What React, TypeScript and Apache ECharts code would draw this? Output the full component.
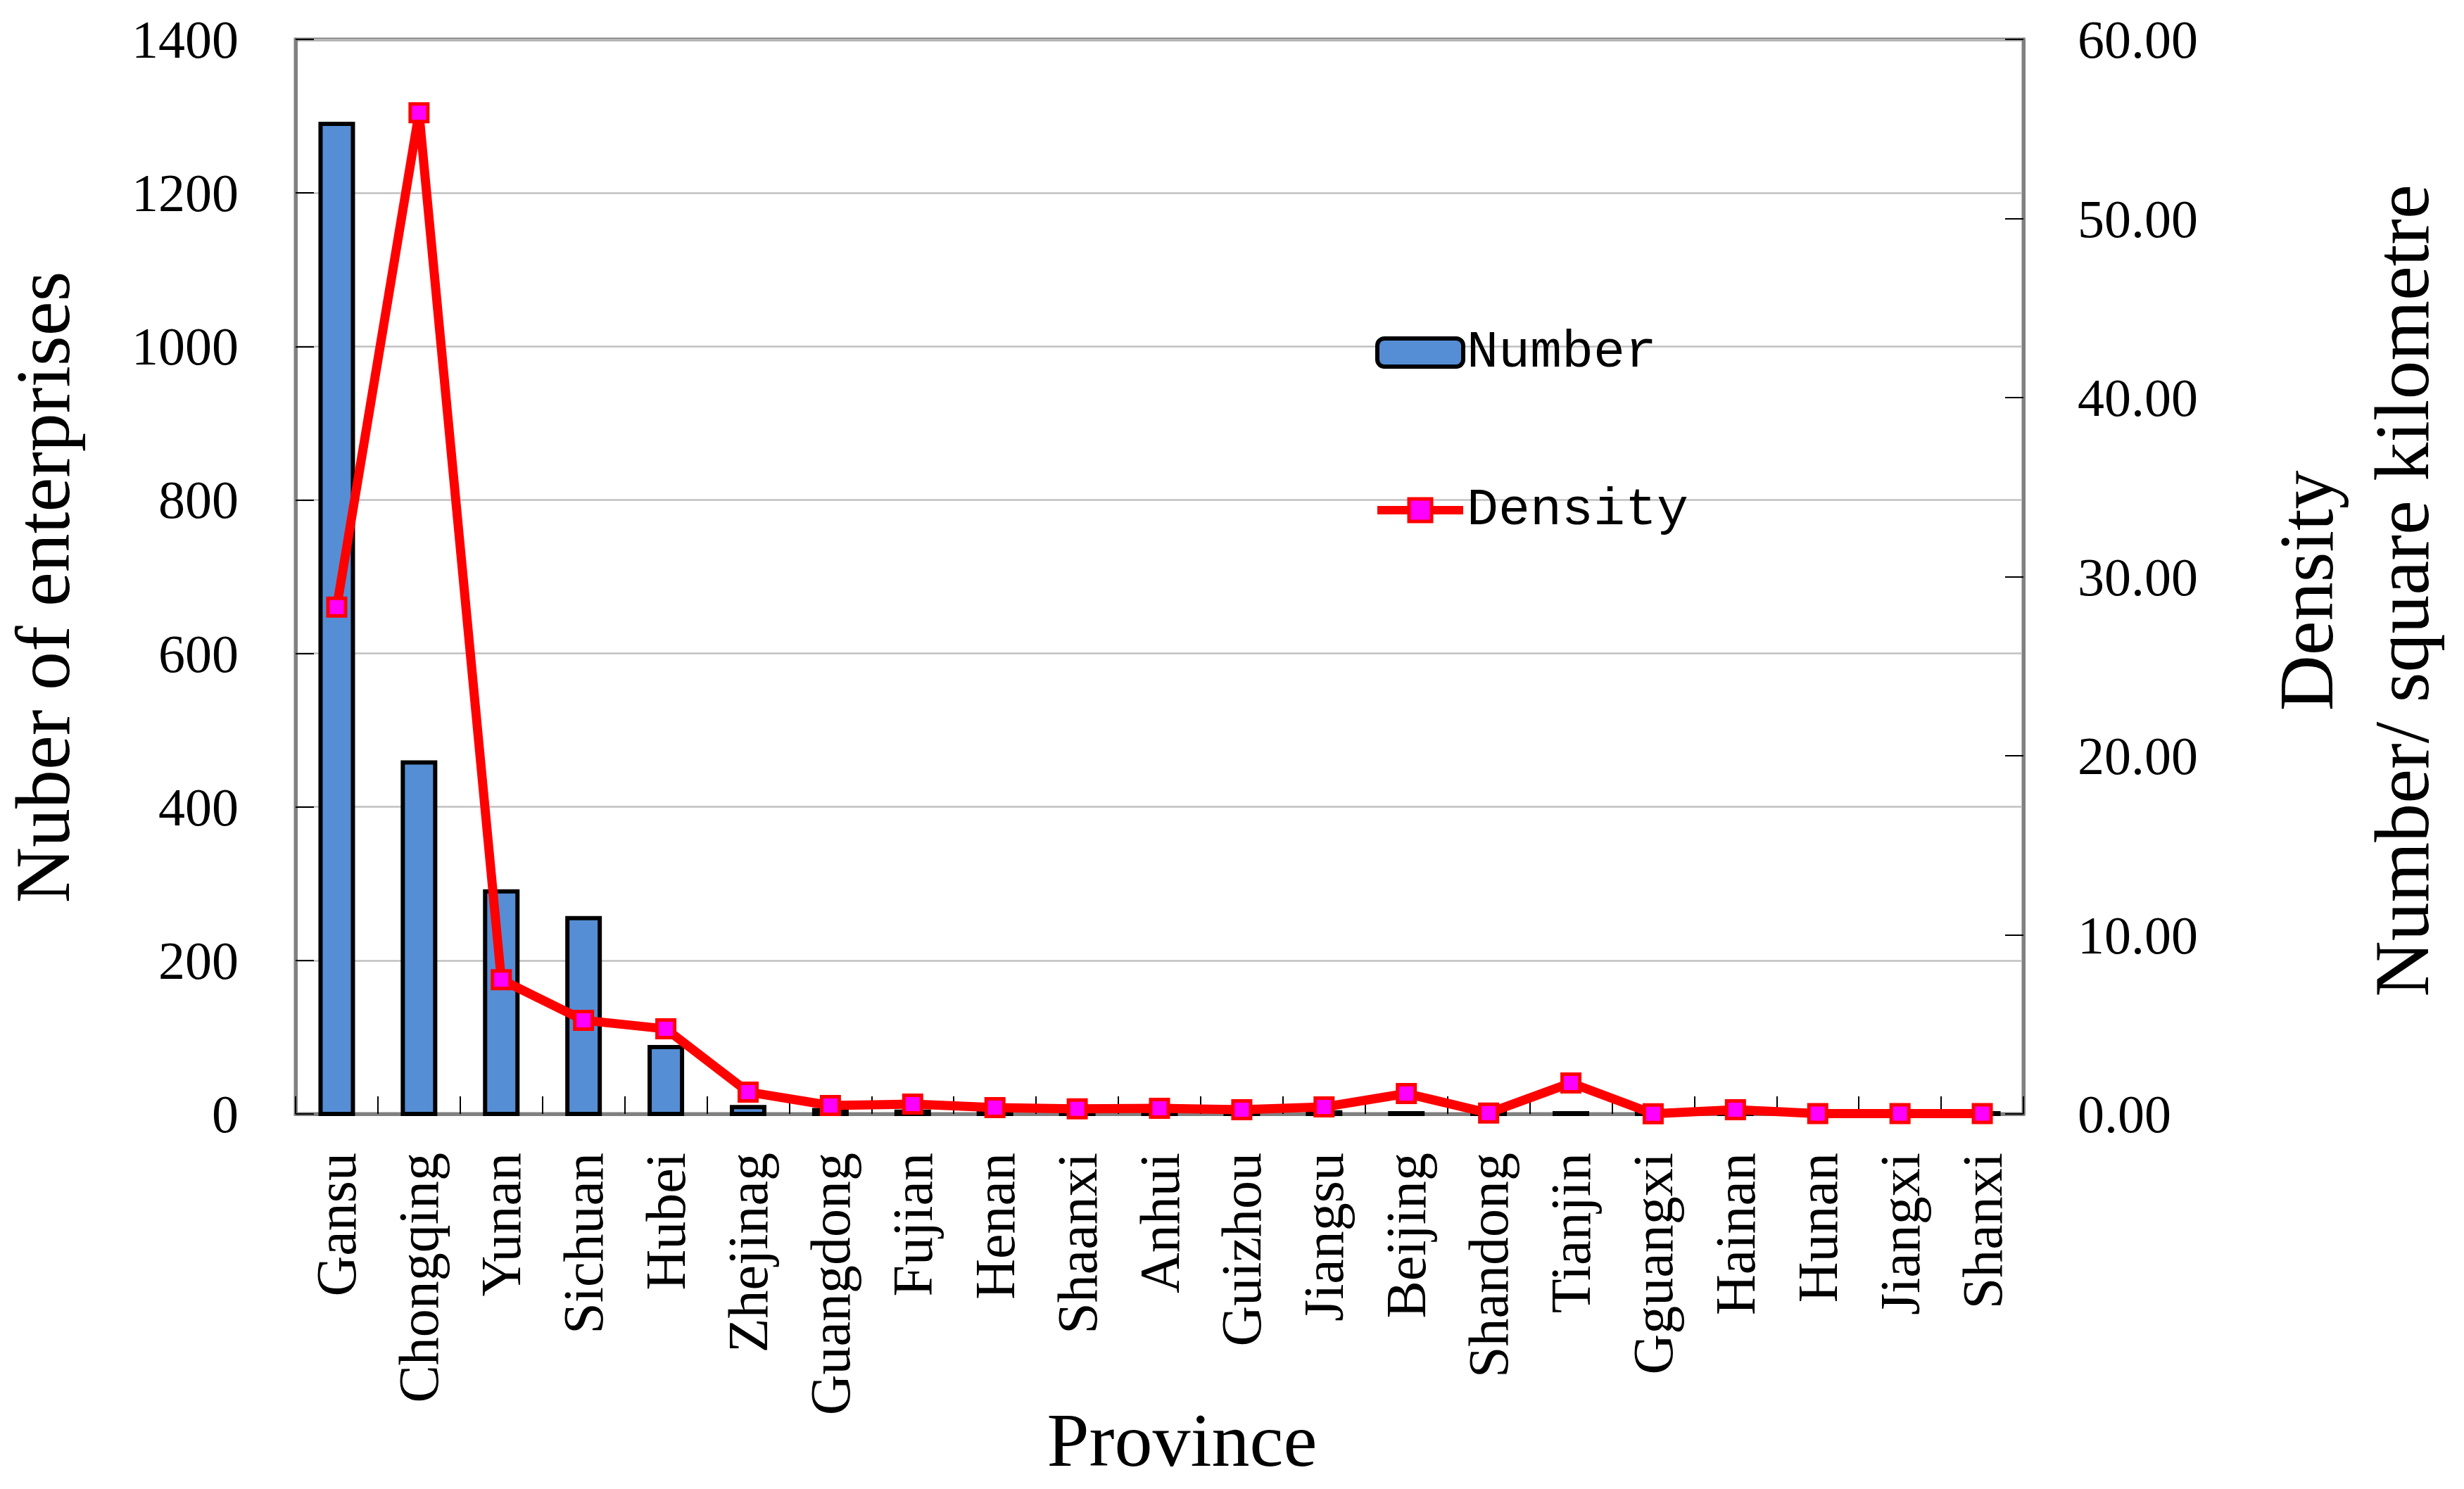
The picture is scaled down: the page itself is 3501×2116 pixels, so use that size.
import React, { useEffect, useRef } from "react";
import * as echarts from "echarts";

const provinces = [
  "Gansu", "Chongqing", "Yunan", "Sichuan", "Hubei", "Zhejinag", "Guangdong",
  "Fujian", "Henan", "Shaanxi", "Anhui", "Guizhou", "Jiangsu", "Beijing",
  "Shandong", "Tianjin", "Gguangxi", "Hainan", "Hunan", "Jiangxi", "Shanxi",
];

const numberValues = [
  1290, 458, 290, 255, 87, 9, 5, 3, 2, 2, 2, 2, 2, 1, 1, 1, 1, 1, 1, 1, 1,
];

const densityValues = [
  28.3, 55.9, 7.5, 5.23, 4.75, 1.22, 0.47, 0.55, 0.35, 0.28, 0.31, 0.24, 0.39,
  1.14, 0.05, 1.73, 0.01, 0.24, 0.02, 0.02, 0.02,
];

const leftAxisRange = { min: 0, max: 1400, interval: 200 };
const rightAxisRange = { min: 0, max: 60, interval: 10 };

const seriesNames = ["Number", "Density"];
const axisNames = {
  x: "Province",
  left: "Nuber of enterprises",
  right: "Density\nNumber/ square kilometre",
};

const SERIF = "'Liberation Serif', 'Times New Roman', serif";
const MONO = "'Liberation Mono', 'DejaVu Sans Mono', monospace";

const BAR_FILL = "#558ED5";
const BAR_STROKE = "#000000";
const BAR_WIDTH = 46;
const BAR_BORDER = 6;
const LINE_COLOR = "#FF0000";
const MARKER_FILL = "#FF00FF";

export default function App() {
  const ref = useRef<HTMLDivElement>(null);

  useEffect(() => {
    document.body.style.margin = "0";
    const chart = echarts.init(ref.current!, null, {
      renderer: "svg",
      width: 3501,
      height: 2116,
    });

    const axisLine = { show: true, lineStyle: { color: "#808080", width: 5 } };
    const axisTick = {
      show: true,
      inside: true,
      length: 26,
      lineStyle: { color: "#000000", width: 2 },
    };

    chart.setOption({
      animation: false,
      backgroundColor: "#ffffff",
      grid: {
        left: 420,
        right: 626,
        top: 56,
        bottom: 533,
        show: true,
        borderColor: "#808080",
        borderWidth: 5,
        containLabel: false,
        outerBoundsMode: "none",
      },
      legend: {
        data: [
          {
            name: seriesNames[0],
            icon: "roundRect",
            itemStyle: { color: BAR_FILL, borderColor: BAR_STROKE, borderWidth: 6 },
          },
          {
            name: seriesNames[1],
            lineStyle: { color: LINE_COLOR, width: 12 },
            itemStyle: { color: MARKER_FILL, borderColor: LINE_COLOR, borderWidth: 5 },
          },
        ],
        orient: "vertical",
        left: 1946,
        top: 456,
        itemWidth: 122,
        itemHeight: 40,
        itemGap: 144,
        textStyle: {
          fontFamily: MONO,
          fontSize: 75,
          color: "#000000",
          lineHeight: 80,
        },
      },
      xAxis: {
        type: "category",
        data: provinces,
        boundaryGap: true,
        axisLine,
        axisTick: { ...axisTick, length: 25 },
        axisLabel: {
          rotate: 90,
          interval: 0,
          margin: 55,
          fontSize: 80,
          fontFamily: SERIF,
          color: "#000000",
        },
        splitLine: { show: false },
        name: axisNames.x,
        nameLocation: "middle",
        nameGap: 409,
        nameMoveOverlap: false,
        nameTextStyle: {
          fontSize: 108,
          fontFamily: SERIF,
          color: "#000000",
          padding: [0, 0, 0, 64],
        },
      },
      yAxis: [
        {
          type: "value",
          position: "left",
          min: leftAxisRange.min,
          max: leftAxisRange.max,
          interval: leftAxisRange.interval,
          axisLine,
          axisTick,
          axisLabel: {
            margin: 81,
            fontSize: 76,
            fontFamily: SERIF,
            color: "#000000",
            formatter: (v: number) => String(v),
          },
          splitLine: { show: true, lineStyle: { color: "#C0C0C0", width: 2.5 } },
          name: axisNames.left,
          nameLocation: "middle",
          nameRotate: 90,
          nameGap: 304,
          nameMoveOverlap: false,
          nameTextStyle: {
            fontSize: 110,
            fontFamily: SERIF,
            color: "#000000",
            padding: [0, 30, 0, 0],
          },
        },
        {
          type: "value",
          position: "right",
          min: rightAxisRange.min,
          max: rightAxisRange.max,
          interval: rightAxisRange.interval,
          axisLine,
          axisTick,
          axisLabel: {
            margin: 77,
            fontSize: 76,
            fontFamily: SERIF,
            color: "#000000",
            formatter: (v: number) => v.toFixed(2),
          },
          splitLine: { show: false },
          name: axisNames.right,
          nameLocation: "middle",
          nameRotate: 90,
          nameGap: 334,
          nameMoveOverlap: false,
          nameTextStyle: {
            fontSize: 110,
            lineHeight: 136,
            fontFamily: SERIF,
            color: "#000000",
            align: "center",
            padding: [0, 40, 0, 0],
          },
        },
      ],
      series: [
        {
          name: seriesNames[0],
          type: "custom",
          data: numberValues.map((v, i) => [i, v]),
          encode: { x: 0, y: 1 },
          itemStyle: { color: BAR_FILL, borderColor: BAR_STROKE, borderWidth: BAR_BORDER },
          z: 2,
          renderItem: (params: any, api: any) => {
            const idx = api.value(0);
            const val = api.value(1);
            const top = api.coord([idx, val]);
            const base = api.coord([idx, 0]);
            return {
              type: "rect",
              shape: {
                x: top[0] - BAR_WIDTH / 2,
                y: top[1],
                width: BAR_WIDTH,
                height: base[1] - top[1],
              },
              style: { fill: BAR_FILL, stroke: BAR_STROKE, lineWidth: BAR_BORDER },
            };
          },
        },
        {
          name: seriesNames[1],
          type: "line",
          yAxisIndex: 1,
          data: densityValues,
          symbol: "rect",
          symbolSize: 25,
          lineStyle: { color: LINE_COLOR, width: 13 },
          itemStyle: { color: MARKER_FILL, borderColor: LINE_COLOR, borderWidth: 5 },
          z: 3,
        },
      ],
    });

    return () => chart.dispose();
  }, []);

  return <div ref={ref} style={{ width: 3501, height: 2116, overflow: "hidden" }} />;
}
